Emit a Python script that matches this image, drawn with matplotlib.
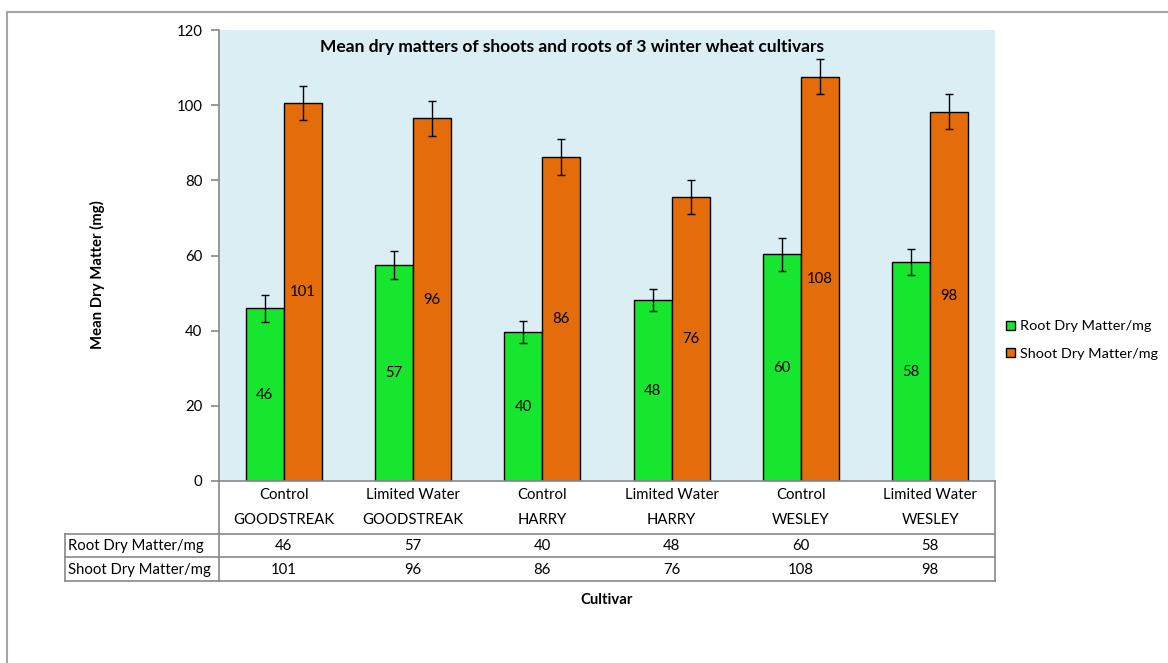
import matplotlib
matplotlib.use("Agg")
import matplotlib.pyplot as plt
from matplotlib.lines import Line2D
from matplotlib.patches import Patch
import matplotlib.transforms as mtransforms
import numpy as np

plt.rcParams['font.family'] = ['Lato', 'DejaVu Sans']

treatments = ["Control", "Limited Water", "Control", "Limited Water", "Control", "Limited Water"]
cultivars = ["GOODSTREAK", "GOODSTREAK", "HARRY", "HARRY", "WESLEY", "WESLEY"]
root = [46.0, 57.4, 39.6, 48.1, 60.3, 58.2]
shoot = [100.6, 96.5, 86.2, 75.6, 107.6, 98.3]
root_err = [3.6, 3.7, 3.0, 3.0, 4.3, 3.5]
shoot_err = [4.5, 4.7, 4.7, 4.5, 4.7, 4.7]
series_names = ["Root Dry Matter/mg", "Shoot Dry Matter/mg"]
yticks = [0, 20, 40, 60, 80, 100, 120]

W, H = 1168, 663
fig = plt.figure(figsize=(W / 100, H / 100), dpi=100)
fig.patch.set_facecolor('white')

L, R, T, B = 219, 995, 30, 481
ax = fig.add_axes([L / W, (H - B) / H, (R - L) / W, (B - T) / H])
ax.set_facecolor('#DBEEF4')

green = '#17E62E'
orange = '#E46C0A'
gray = '#888888'
fs = 10.7

x = np.arange(len(root))
bw = 0.293
ax.bar(x - bw / 2, root, bw, color=green, edgecolor='black', linewidth=1.0, zorder=2)
ax.bar(x + bw / 2, shoot, bw, color=orange, edgecolor='black', linewidth=1.0, zorder=2)
ax.errorbar(x - bw / 2, root, yerr=root_err, fmt='none', ecolor='black', elinewidth=1.0, capsize=3, capthick=1.0, zorder=3)
ax.errorbar(x + bw / 2, shoot, yerr=shoot_err, fmt='none', ecolor='black', elinewidth=1.0, capsize=3, capthick=1.0, zorder=3)

for xi, v in zip(x, root):
    ax.text(xi - bw / 2, v / 2, f"{round(v)}", ha='center', va='center', fontsize=fs, zorder=4)
for xi, v in zip(x, shoot):
    ax.text(xi + bw / 2, v / 2, f"{round(v)}", ha='center', va='center', fontsize=fs, zorder=4)

ax.set_xlim(-0.5, len(root) - 0.5)
ax.set_ylim(0, 120)
ax.set_yticks(yticks)
ax.set_yticklabels([str(t) for t in yticks], fontsize=fs)
ax.set_xticks([])
for s in ['top', 'right']:
    ax.spines[s].set_visible(False)
ax.spines['left'].set_color(gray)
ax.spines['bottom'].set_color(gray)
ax.spines['left'].set_linewidth(1.2)
ax.spines['bottom'].set_linewidth(1.2)
ax.tick_params(axis='y', direction='out', length=6, color=gray, width=1.2, pad=6)

ax.text(0.455, 0.962, "Mean dry matters of shoots and roots of 3 winter wheat cultivars",
        transform=ax.transAxes, ha='center', va='center', fontsize=12.5, fontweight='bold')

# Table below axes
def fy(ypix):
    return (H - ypix) / H

def fx(xpix):
    return xpix / W

trans = mtransforms.blended_transform_factory(ax.transData, fig.transFigure)
for xi, t, c in zip(x, treatments, cultivars):
    ax.text(xi, fy(495), t, transform=trans, ha='center', va='center', fontsize=fs, clip_on=False)
    ax.text(xi, fy(520), c, transform=trans, ha='center', va='center', fontsize=fs, clip_on=False)
for xi, v in zip(x, root):
    ax.text(xi, fy(546), f"{round(v)}", transform=trans, ha='center', va='center', fontsize=fs, clip_on=False)
for xi, v in zip(x, shoot):
    ax.text(xi, fy(570), f"{round(v)}", transform=trans, ha='center', va='center', fontsize=fs, clip_on=False)

fig.text(fx(68), fy(546), series_names[0], ha='left', va='center', fontsize=fs)
fig.text(fx(68), fy(570), series_names[1], ha='left', va='center', fontsize=fs)

lc = gray
lw = 1.2
lines = [
    ((65, 995), (534, 534)),
    ((65, 995), (557, 557)),
    ((65, 995), (581, 581)),
    ((65, 65), (534, 581)),
    ((219, 219), (481, 581)),
    ((995, 995), (481, 581)),
]
for xs, ys in lines:
    fig.add_artist(Line2D([fx(xs[0]), fx(xs[1])], [fy(ys[0]), fy(ys[1])], color=lc, linewidth=lw, transform=fig.transFigure))

# outer partial border
fig.add_artist(Line2D([fx(6.5), fx(1168)], [fy(12), fy(12)], color='#A6A6A6', linewidth=1.5, transform=fig.transFigure))
fig.add_artist(Line2D([fx(6.5), fx(6.5)], [fy(12), fy(663)], color='#A6A6A6', linewidth=1.5, transform=fig.transFigure))

fig.text(fx(607), fy(600), "Cultivar", ha='center', va='center', fontsize=fs, fontweight='bold')
fig.text(fx(97), fy(275), "Mean Dry Matter (mg)", ha='center', va='center', rotation=90, fontsize=fs, fontweight='bold')

handles = [Patch(facecolor=green, edgecolor='black', linewidth=1.0),
           Patch(facecolor=orange, edgecolor='black', linewidth=1.0)]
fig.legend(handles, series_names, loc='center left', bbox_to_anchor=(fx(1006), fy(340)),
           frameon=False, fontsize=10.4, handlelength=0.65, handleheight=0.65, handletextpad=0.35,
           labelspacing=1.05, borderpad=0, borderaxespad=0)

fig.savefig("out.png", dpi=100)
